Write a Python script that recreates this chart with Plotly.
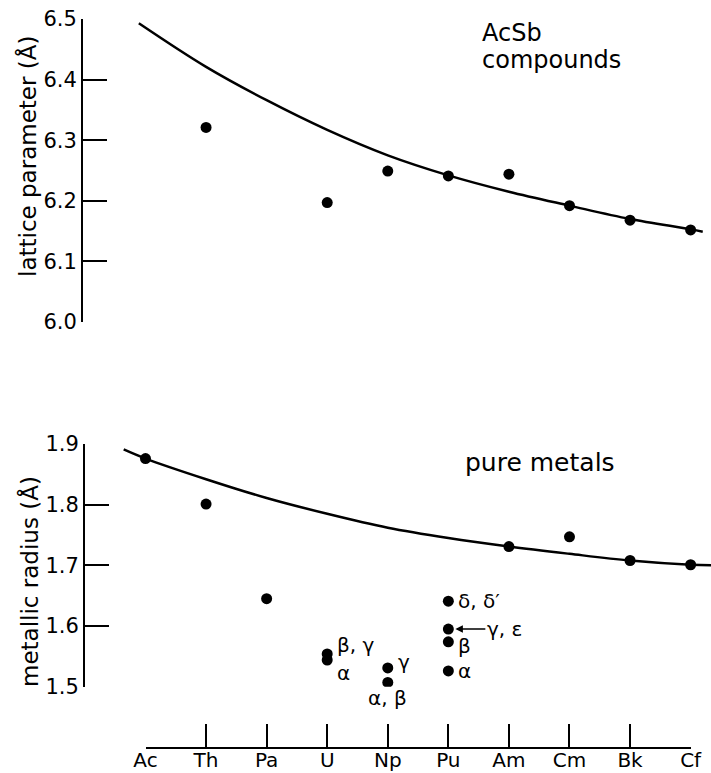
import plotly.graph_objects as go

# ---------------- data ----------------
elements = ["Ac", "Th", "Pa", "U", "Np", "Pu", "Am", "Cm", "Bk", "Cf"]
element_pos = list(range(len(elements)))

# AcSb compounds: lattice parameter (Å)
acsb_x = [1, 3, 4, 5, 6, 7, 8, 9]
acsb_a = [6.321, 6.197, 6.249, 6.241, 6.244, 6.192, 6.168, 6.152]
# smooth trend line
acsb_curve_x = [-0.11, 1, 2, 3, 4, 5, 6, 7, 8, 9, 9.2]
acsb_curve_y = [6.493, 6.421, 6.366, 6.317, 6.275, 6.242, 6.215, 6.192, 6.170, 6.153, 6.149]

# pure metals: metallic radius (Å)
metal_x = [0, 1, 2, 3, 3, 4, 4, 5, 5, 5, 5, 6, 7, 8, 9]
metal_r = [1.876, 1.801, 1.645, 1.554, 1.544, 1.531, 1.507,
           1.641, 1.595, 1.574, 1.526, 1.731, 1.747, 1.708, 1.701]
metal_curve_x = [-0.36, 0, 1, 2, 3, 4, 5, 6, 7, 8, 9, 9.34]
metal_curve_y = [1.891, 1.876, 1.842, 1.811, 1.785, 1.762, 1.745, 1.731,
                 1.719, 1.708, 1.701, 1.700]

# phase labels: (text, element index, radius)
phase_text = ["β, γ", "α", "γ", "α, β", "δ, δ′", "β", "α"]
phase_x = [3, 3, 4, 4, 5, 5, 5]
phase_y = [1.554, 1.544, 1.531, 1.507, 1.641, 1.574, 1.526]
arrow_text = "γ, ε"
arrow_x = 5
arrow_y = 1.595

top_ticks = [6.0, 6.1, 6.2, 6.3, 6.4, 6.5]
bot_ticks = [1.5, 1.6, 1.7, 1.8, 1.9]

# ---------------- layout geometry (pixels) ----------------
W, H = 711, 773
FONT = "DejaVu Sans"
x0_px, step_px = 145.5, 60.57


def px_x(p):
    return p / W


def px_y(p):
    return 1 - p / H


data_range = [(0 - x0_px) / step_px, (W - x0_px) / step_px]

fig = go.Figure()

fig.add_trace(go.Scatter(x=acsb_curve_x, y=acsb_curve_y, mode="lines",
                         line=dict(color="black", width=2.5, shape="spline"),
                         xaxis="x", yaxis="y", hoverinfo="skip", showlegend=False))
fig.add_trace(go.Scatter(x=acsb_x, y=acsb_a, mode="markers",
                         marker=dict(color="black", size=11),
                         xaxis="x", yaxis="y", showlegend=False))
fig.add_trace(go.Scatter(x=metal_curve_x, y=metal_curve_y, mode="lines",
                         line=dict(color="black", width=2.5, shape="spline"),
                         xaxis="x", yaxis="y2", hoverinfo="skip", showlegend=False))
fig.add_trace(go.Scatter(x=metal_x, y=metal_r, mode="markers",
                         marker=dict(color="black", size=11),
                         xaxis="x", yaxis="y2", showlegend=False))
# carrier trace for the element axis
fig.add_trace(go.Scatter(x=[element_pos[0], element_pos[-1]], y=[None, None],
                         mode="lines", xaxis="x2", yaxis="y",
                         hoverinfo="skip", showlegend=False))

yaxis_common = dict(showline=True, linecolor="black", linewidth=2,
                    ticks="inside", ticklen=24, tickwidth=2, tickcolor="black",
                    showgrid=False, zeroline=False, anchor="free",
                    automargin=False,
                    tickfont=dict(family=FONT, size=21, color="black"),
                    tickformat=".1f")

fig.update_layout(
    width=W, height=H,
    margin=dict(l=0, r=0, t=0, b=0, pad=0, autoexpand=False),
    autosize=False,
    paper_bgcolor="white", plot_bgcolor="rgba(0,0,0,0)",
    showlegend=False,
    xaxis=dict(domain=[0, 1], range=data_range, visible=False, anchor="y",
               automargin=False),
    xaxis2=dict(domain=[px_x(x0_px), px_x(x0_px + 9 * step_px)],
                range=[element_pos[0], element_pos[-1]], anchor="free",
                position=px_y(748), automargin=False,
                showline=True, linecolor="black", linewidth=2,
                ticks="inside", ticklen=23, tickwidth=2, tickcolor="black",
                tickvals=element_pos, ticktext=elements,
                ticklabelstandoff=-6,
                showgrid=False, zeroline=False,
                tickfont=dict(family=FONT, size=20, color="black")),
    yaxis=dict(domain=[px_y(322), px_y(19)], range=[6.0, 6.5],
               position=px_x(82), tickvals=top_ticks, **yaxis_common),
    yaxis2=dict(domain=[px_y(686.7), px_y(444)], range=[1.5, 1.9],
                position=px_x(84), tickvals=bot_ticks, **yaxis_common),
)

ann = []
# axis titles
ann.append(dict(text="lattice parameter (Å)", xref="paper", yref="paper",
                x=px_x(27), y=px_y(157), textangle=-90, showarrow=False,
                xanchor="center", yanchor="middle",
                font=dict(family=FONT, size=23, color="black")))
ann.append(dict(text="metallic radius (Å)", xref="paper", yref="paper",
                x=px_x(29), y=px_y(582), textangle=-90, showarrow=False,
                xanchor="center", yanchor="middle",
                font=dict(family=FONT, size=23, color="black")))
# panel labels
for txt, yy in [("AcSb", 33), ("compounds", 60)]:
    ann.append(dict(text=txt, xref="paper", yref="paper", x=px_x(480),
                    y=px_y(yy), showarrow=False, xanchor="left", yanchor="middle",
                    font=dict(family=FONT, size=24, color="black")))
ann.append(dict(text="pure metals", xref="paper", yref="paper", x=px_x(463),
                y=px_y(462), showarrow=False, xanchor="left", yanchor="middle",
                font=dict(family=FONT, size=25, color="black")))

# phase labels (offsets in px from their dot)
offsets = [(8, 9, "left"), (8, -13, "left"), (8, 6, "left"), (0, -16, "center"),
           (8, 0, "left"), (8, -4, "left"), (8, 0, "left")]
for t, xx, yy, (dx, dy, xa) in zip(phase_text, phase_x, phase_y, offsets):
    ann.append(dict(text=t, xref="x", yref="y2", x=xx, y=yy, showarrow=False,
                    xanchor=xa, yanchor="middle", xshift=dx, yshift=dy,
                    font=dict(family=FONT, size=20, color="black")))
ann.append(dict(text=arrow_text, xref="x", yref="y2", x=arrow_x, y=arrow_y,
                showarrow=True, ax=56, ay=0, arrowhead=2, arrowsize=1,
                arrowwidth=1.5, arrowcolor="black", standoff=7,
                font=dict(family=FONT, size=20, color="black")))

fig.update_layout(annotations=ann)
fig.write_html("out.html")
